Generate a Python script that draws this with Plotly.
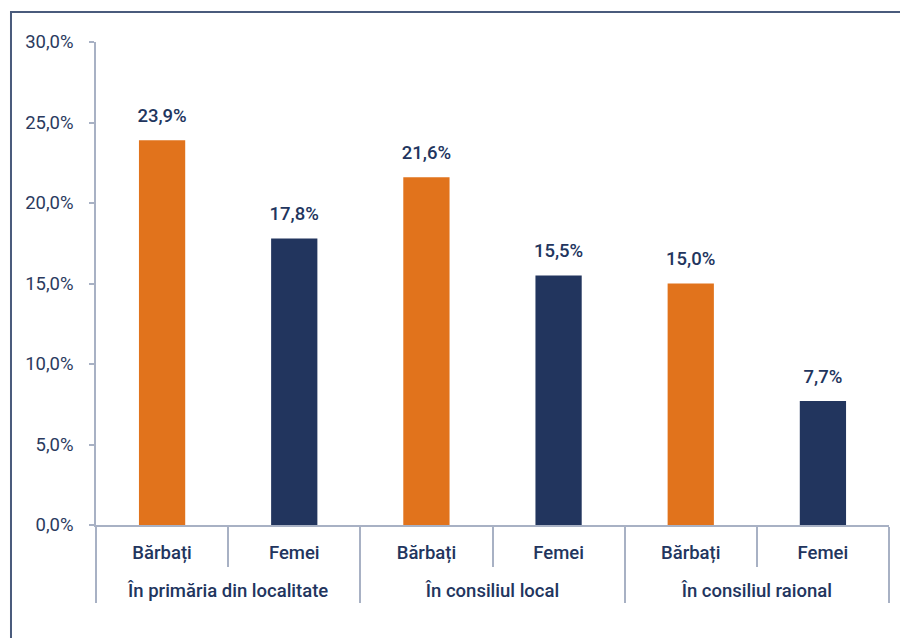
import plotly.graph_objects as go

groups = ["În primăria din localitate", "În consiliul local", "În consiliul raional"]
sexes = ["Bărbați", "Femei"]
values = [23.9, 17.8, 21.6, 15.5, 15.0, 7.7]

ORANGE = "#E1731C"
NAVY = "#22355E"
AXIS = "#A8B1C4"
FONT = "Roboto"

outer = [g for g in groups for _ in sexes]
# a blank second line makes the first label row taller, so the group row drops lower
inner = [s + "<br><span style='font-size:22px'>\u00a0</span>" for _ in groups for s in sexes]
colors = [ORANGE if s == sexes[0] else NAVY for _ in groups for s in sexes]

fig = go.Figure()

fig.add_bar(
    x=[outer, inner],
    y=values,
    marker=dict(color=colors, line=dict(width=0)),
    width=0.35,
    hoverinfo="skip",
    showlegend=False,
)

# value labels sit a bit higher than plotly's "outside" text, so use an invisible marker
fig.add_scatter(
    x=[outer, inner],
    y=values,
    mode="markers+text",
    marker=dict(size=20, color="rgba(0,0,0,0)"),
    text=[f"{v:.1f}%".replace(".", ",") for v in values],
    textposition="top center",
    textfont=dict(family=FONT, size=18.5, color=NAVY, weight=500),
    hoverinfo="skip",
    showlegend=False,
)

# outer frame
fig.add_shape(
    type="rect", xref="paper", yref="paper",
    x0=-0.1072, x1=1.1, y0=-0.3, y1=1.0621,
    line=dict(color="#4A5B7C", width=2),
    fillcolor="rgba(0,0,0,0)",
    layer="below",
)

# page body has an 8px margin, so the figure is 8px smaller and the left/top margins shifted
fig.update_layout(
    width=900,
    height=630,
    margin=dict(l=88, r=19, t=34, b=113),
    paper_bgcolor="white",
    plot_bgcolor="white",
    separators=",.",
    font=dict(family=FONT, color=NAVY),
    bargap=0.65,
)

fig.update_xaxes(
    type="multicategory",
    automargin=False,
    showline=True,
    linecolor=AXIS,
    linewidth=1.5,
    ticks="outside",
    tickson="boundaries",
    ticklen=40,
    tickcolor=AXIS,
    tickwidth=1.5,
    ticklabelstandoff=10,
    showdividers=True,
    dividercolor=AXIS,
    dividerwidth=1.5,
    tickfont=dict(family=FONT, size=18.5, color=NAVY, weight=500),
    showgrid=False,
)

fig.update_yaxes(
    automargin=False,
    range=[0, 30],
    dtick=5,
    tickformat=".1f",
    ticksuffix="%",
    showline=True,
    linecolor=AXIS,
    linewidth=1.5,
    ticks="outside",
    ticklen=5,
    tickcolor=AXIS,
    tickwidth=1.5,
    ticklabelstandoff=12,
    tickfont=dict(family=FONT, size=18.5, color="#2B3A5E"),
    showgrid=False,
    zeroline=False,
)

fig.write_html("out.html")
